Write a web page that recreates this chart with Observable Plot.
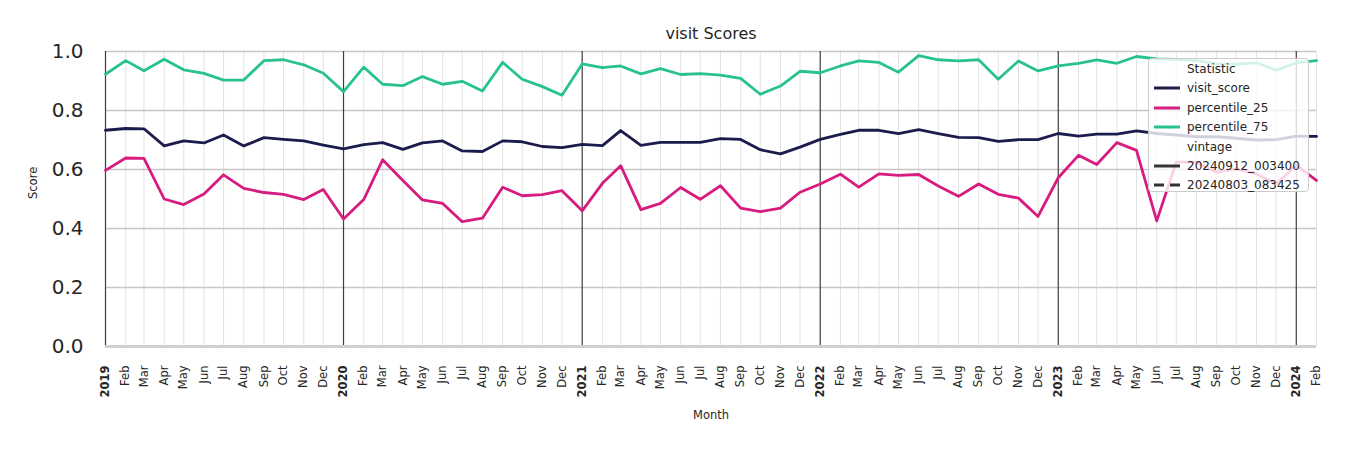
<!DOCTYPE html>
<html>
<head>
<meta charset="utf-8">
<script src="https://cdn.jsdelivr.net/npm/d3@7"></script>
<script src="https://cdn.jsdelivr.net/npm/@observablehq/plot@0.6"></script>
<style>
  html, body { margin: 0; padding: 0; background: white; }
  #wrap { position: relative; width: 1350px; height: 450px; font-family: "DejaVu Sans", sans-serif; color: #262626; }
  #legend { position: absolute; left: 1148px; top: 58px; width: 161px; height: 134px; background: rgba(255,255,255,0.8);
            border: 1px solid #cccccc; border-radius: 4px; box-sizing: border-box; }
  .row { position: absolute; left: 0; height: 20px; width: 100%; font-size: 12px; line-height: 20px; }
  .row span { position: absolute; left: 38px; white-space: nowrap; }
  .row svg { position: absolute; left: 4px; top: 0; }
</style>
</head>
<body>
<div id="wrap"></div>
<script>
// ---- categories ----
const startMonth = "2019-01-01";
const endMonth = "2024-02-01";
const monthNames = ["Jan","Feb","Mar","Apr","May","Jun","Jul","Aug","Sep","Oct","Nov","Dec"];
const stats = ["visit_score", "percentile_25", "percentile_75"];
const statColors = ["#1c1b4e", "#d81b7f", "#27c28f"];
const vintages = ["20240912_003400", "20240803_083425"];
const yTicks = [0, 0.2, 0.4, 0.6, 0.8, 1.0];

// ---- series values (Jan 2019 .. Feb 2024) ----
const visitScore = [
  0.733, 0.739, 0.738, 0.680, 0.697, 0.690, 0.717, 0.680, 0.708, 0.702, 0.697, 0.683,
  0.670, 0.684, 0.691, 0.668, 0.690, 0.697, 0.663, 0.661, 0.697, 0.694, 0.678, 0.674,
  0.685, 0.681, 0.732, 0.682, 0.692, 0.692, 0.692, 0.705, 0.702, 0.667, 0.653, 0.676,
  0.702, 0.719, 0.733, 0.733, 0.722, 0.735, 0.722, 0.709, 0.708, 0.695, 0.701, 0.701,
  0.722, 0.713, 0.720, 0.720, 0.731, 0.722, 0.717, 0.711, 0.711, 0.706, 0.700, 0.701,
  0.713, 0.712
];
const percentile25 = [
  0.597, 0.639, 0.638, 0.500, 0.481, 0.517, 0.582, 0.536, 0.522, 0.516, 0.498, 0.532,
  0.432, 0.498, 0.633, 0.563, 0.497, 0.485, 0.423, 0.435, 0.540, 0.511, 0.515, 0.528,
  0.460, 0.553, 0.613, 0.464, 0.485, 0.539, 0.499, 0.545, 0.469, 0.457, 0.469, 0.523,
  0.551, 0.584, 0.540, 0.585, 0.580, 0.583, 0.544, 0.509, 0.551, 0.516, 0.503, 0.441,
  0.572, 0.648, 0.617, 0.691, 0.665, 0.426, 0.625, 0.625, 0.591, 0.602, 0.585, 0.551,
  0.614, 0.563
];
const percentile75 = [
  0.923, 0.969, 0.935, 0.974, 0.938, 0.926, 0.903, 0.903, 0.969, 0.972, 0.955, 0.926,
  0.864, 0.947, 0.889, 0.884, 0.915, 0.889, 0.899, 0.866, 0.963, 0.906, 0.881, 0.852,
  0.958, 0.945, 0.951, 0.924, 0.942, 0.922, 0.925, 0.920, 0.909, 0.855, 0.883, 0.933,
  0.928, 0.951, 0.968, 0.963, 0.930, 0.986, 0.972, 0.968, 0.972, 0.906, 0.968, 0.934,
  0.951, 0.960, 0.972, 0.960, 0.983, 0.975, 0.973, 0.969, 0.958, 0.956, 0.962, 0.936,
  0.962, 0.969
];

// ---- build table ----
const start = new Date(startMonth + "T00:00:00Z");
const end = new Date(endMonth + "T00:00:00Z");
const months = d3.utcMonth.range(start, d3.utcMonth.offset(end, 1));
const seriesByStat = {visit_score: visitScore, percentile_25: percentile25, percentile_75: percentile75};
const rows = [];
for (const s of stats) {
  seriesByStat[s].forEach((v, i) => rows.push({date: months[i], stat: s, value: v}));
}
const yearStarts = months.filter(d => d.getUTCMonth() === 0);
const otherMonths = months.filter(d => d.getUTCMonth() !== 0);

const chart = Plot.plot({
  width: 1350,
  height: 450,
  marginLeft: 105,
  marginRight: 34,
  marginTop: 51,
  marginBottom: 104,
  style: {fontFamily: "DejaVu Sans", color: "#262626", background: "white", overflow: "visible"},
  x: {type: "utc", domain: [start, end], label: null},
  y: {domain: [0, 1], label: null},
  color: {domain: stats, range: statColors},
  marks: [
    Plot.gridX(otherMonths, {stroke: "#e2e2e2", strokeOpacity: 1, strokeWidth: 1}),
    Plot.gridY(yTicks, {stroke: "#c6c6c6", strokeOpacity: 1, strokeWidth: 1.5}),
    Plot.ruleX(yearStarts, {stroke: "#3d3d3d", strokeWidth: 1.2}),
    Plot.ruleY([0], {stroke: "#d0d0d0", strokeWidth: 3}),
    Plot.line(rows, {x: "date", y: "value", z: "stat", stroke: "stat", strokeWidth: 2.8, strokeLinejoin: "round"}),
    Plot.axisY(yTicks, {tickSize: 0, tickPadding: 22, fontSize: 20, fill: "#262626", tickFormat: d3.format(".1f"), label: null}),
    Plot.axisX(otherMonths, {tickSize: 0, tickPadding: 19, tickRotate: -90, fontSize: 11.5, fill: "#262626",
      tickFormat: d => monthNames[d.getUTCMonth()], label: null}),
    Plot.axisX(yearStarts, {tickSize: 0, tickPadding: 19, tickRotate: -90, fontSize: 11.5, fontWeight: "bold", fill: "#262626",
      tickFormat: d => String(d.getUTCFullYear()), label: null}),
    Plot.text(["visit Scores"], {frameAnchor: "top", lineAnchor: "middle", dy: -18, fontSize: 16, fill: "#262626"}),
    Plot.text(["Score"], {frameAnchor: "left", lineAnchor: "middle", dx: -72, rotate: -90, fontSize: 11.5, fill: "#262626"}),
    Plot.text(["Month"], {frameAnchor: "bottom", lineAnchor: "middle", dy: 69, fontSize: 11.5, fill: "#262626"})
  ]
});

const wrap = document.getElementById("wrap");
wrap.appendChild(chart);

// ---- legend ----
const legend = document.createElement("div");
legend.id = "legend";
const entries = [
  {label: "Statistic", color: null, dash: null},
  ...stats.map((s, i) => ({label: s, color: statColors[i], dash: null})),
  {label: "vintage", color: null, dash: null},
  {label: vintages[0], color: "#333333", dash: null},
  {label: vintages[1], color: "#333333", dash: "10 6"}
];
entries.forEach((e, i) => {
  const row = document.createElement("div");
  row.className = "row";
  row.style.top = (0 + i * 19.4) + "px";
  if (e.color) {
    const ns = "http://www.w3.org/2000/svg";
    const svg = document.createElementNS(ns, "svg");
    svg.setAttribute("width", "28");
    svg.setAttribute("height", "20");
    const ln = document.createElementNS(ns, "line");
    ln.setAttribute("x1", "1"); ln.setAttribute("x2", "27");
    ln.setAttribute("y1", "10"); ln.setAttribute("y2", "10");
    ln.setAttribute("stroke", e.color);
    ln.setAttribute("stroke-width", "3");
    if (e.dash) ln.setAttribute("stroke-dasharray", e.dash);
    svg.appendChild(ln);
    row.appendChild(svg);
  }
  const sp = document.createElement("span");
  sp.textContent = e.label;
  row.appendChild(sp);
  legend.appendChild(row);
});
wrap.appendChild(legend);
</script>
</body>
</html>
